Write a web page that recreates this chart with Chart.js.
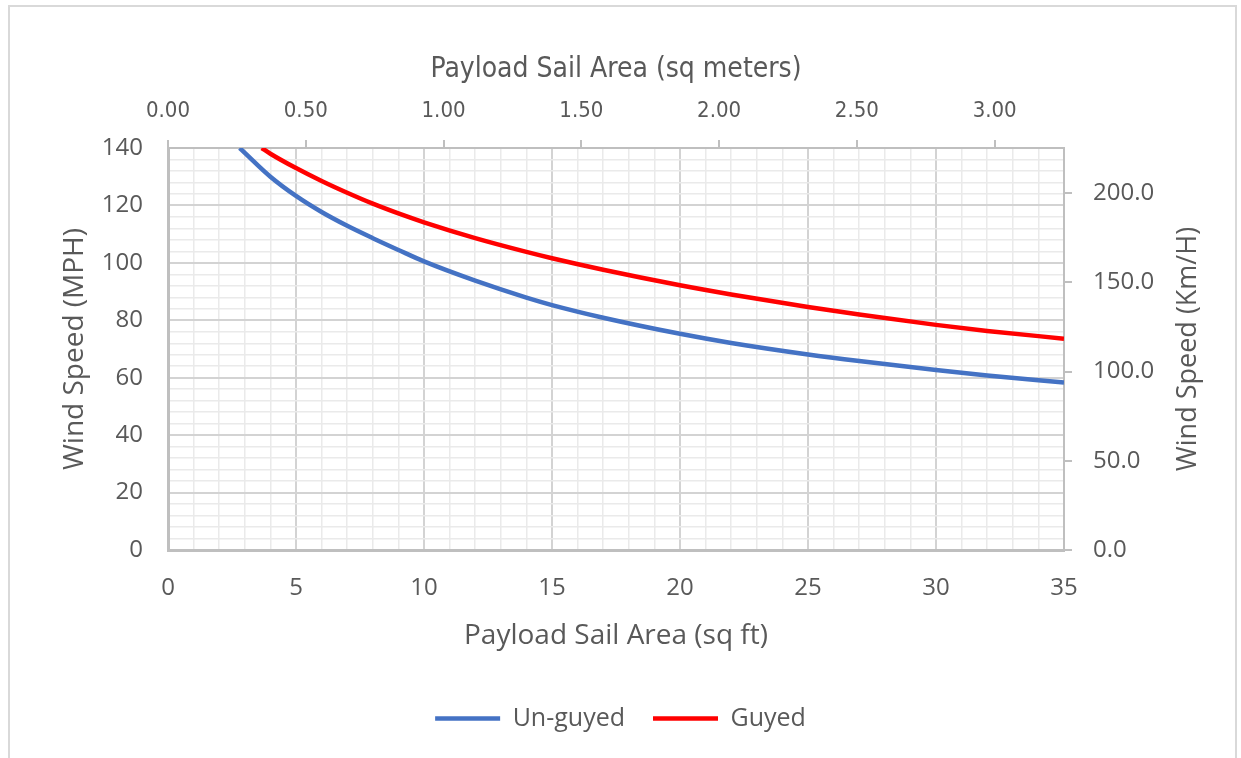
<!DOCTYPE html>
<html>
<head>
<meta charset="utf-8">
<script src="https://cdn.jsdelivr.net/npm/chart.js@4/dist/chart.umd.min.js"></script>
<style>
    body { margin: 0; background: #fff; overflow: hidden; }
    #frame {
        position: absolute; left: 8px; top: 5px; width: 1229px; height: 760px;
        border: 2px solid #d9d9d9; box-sizing: border-box;
    }
    #chart { position: absolute; left: 0; top: 0; }
</style>
</head>
<body>
<div id="frame"></div>
<canvas id="chart" width="1241" height="758"></canvas>
<script>
// Sail area (sq ft) and wind speed (mph)
const unguyedArea = [2.8, 3, 4, 5, 6, 7, 8, 9, 10, 12, 14, 15, 17, 20, 22, 25, 27, 30, 32, 35];
const unguyedSpeed = [140, 138.3, 130, 123.3, 117.7, 112.9, 108.6, 104.5, 100.5, 93.8, 87.9, 85.3, 80.9, 75.3, 72.1, 68.1, 65.8, 62.7, 60.8, 58.3];

const guyedArea = [3.66, 4, 5, 6, 7, 8, 9, 10, 12, 14, 15, 17, 20, 22, 25, 27, 30, 32, 35];
const guyedSpeed = [140, 138, 133, 128.5, 124.4, 120.6, 117.2, 114.1, 108.6, 103.8, 101.6, 97.6, 92.2, 89, 84.6, 82, 78.4, 76.3, 73.6];

// axis ranges
const areaMax = 35;      // sq ft
const speedMax = 140;    // mph
const SQFT_PER_SQM = 10.7639;
const KMH_PER_MPH = 1.609344;

const textColor = '#595959';
const majorGrid = '#d3d3d3';
const minorGrid = '#eaeaea';
const axisLine = '#bfbfbf';

const toPoints = (xs, ys) => xs.map((x, i) => ({ x: x, y: ys[i] }));

const font = (size) => ({ family: "'Open Sans', sans-serif", size: size, lineHeight: 1.2 });
const narrow = (size) => ({ family: "'Liberation Sans Narrow', 'DejaVu Sans Condensed', sans-serif", size: size, lineHeight: 1.2 });

// right axis title reads bottom-to-top, like the left one
const rightTitle = {
    id: 'rightTitle',
    afterDraw(chart) {
        const { ctx, chartArea } = chart;
        ctx.save();
        ctx.translate(1188, (chartArea.top + chartArea.bottom) / 2);
        ctx.rotate(-Math.PI / 2);
        ctx.fillStyle = textColor;
        ctx.font = "27px 'Open Sans', sans-serif";
        ctx.textAlign = 'center';
        ctx.textBaseline = 'middle';
        ctx.fillText('Wind Speed (Km/H)', 0, 0);
        ctx.restore();
    }
};

new Chart(document.getElementById('chart'), {
    type: 'line',
    data: {
        datasets: [
            {
                label: 'Un-guyed',
                data: toPoints(unguyedArea, unguyedSpeed),
                borderColor: '#4472c4',
                backgroundColor: '#4472c4',
                borderWidth: 4.5,
                pointRadius: 0,
                cubicInterpolationMode: 'monotone',
                xAxisID: 'x',
                yAxisID: 'y'
            },
            {
                label: 'Guyed',
                data: toPoints(guyedArea, guyedSpeed),
                borderColor: '#ff0000',
                backgroundColor: '#ff0000',
                borderWidth: 4.5,
                pointRadius: 0,
                cubicInterpolationMode: 'monotone',
                xAxisID: 'x',
                yAxisID: 'y'
            }
        ]
    },
    plugins: [rightTitle],
    options: {
        responsive: false,
        animation: false,
        layout: { padding: { left: 0, right: 0, top: 0, bottom: 17 } },
        plugins: {
            tooltip: { enabled: false },
            legend: {
                position: 'bottom',
                labels: {
                    usePointStyle: true,
                    pointStyle: 'line',
                    pointStyleWidth: 65,
                    color: textColor,
                    font: font(25),
                    padding: 28
                }
            }
        },
        scales: {
            x: {
                type: 'linear',
                position: 'bottom',
                min: 0,
                max: areaMax,
                ticks: {
                    stepSize: 1,
                    autoSkip: false,
                    maxRotation: 0,
                    color: textColor,
                    font: font(24),
                    padding: 24,
                    callback: (v) => (v % 5 === 0 ? String(v) : '')
                },
                grid: {
                    drawTicks: false,
                    color: (c) => (c.tick && c.tick.value % 5 === 0 ? majorGrid : minorGrid),
                    lineWidth: (c) => (c.tick && c.tick.value % 5 === 0 ? 2 : 1.5)
                },
                border: { color: axisLine, width: 3 },
                title: {
                    display: true,
                    text: 'Payload Sail Area (sq ft)',
                    color: textColor,
                    font: font(28),
                    padding: { top: 0, bottom: 25 }
                },
                afterFit: (s) => { s.height = 128; }
            },
            x2: {
                type: 'linear',
                position: 'top',
                min: 0,
                max: areaMax / SQFT_PER_SQM,
                ticks: {
                    stepSize: 0.5,
                    includeBounds: false,
                    maxRotation: 0,
                    color: textColor,
                    font: narrow(22),
                    padding: 16,
                    callback: (v) => v.toFixed(2)
                },
                grid: { drawOnChartArea: false, color: axisLine, tickLength: 8, lineWidth: 2 },
                border: { color: axisLine, width: 2 },
                title: {
                    display: true,
                    text: 'Payload Sail Area (sq meters)',
                    color: textColor,
                    font: narrow(28),
                    padding: { top: 53, bottom: 0 }
                },
                afterFit: (s) => { s.height = 148; }
            },
            y: {
                type: 'linear',
                position: 'left',
                min: 0,
                max: speedMax,
                ticks: {
                    stepSize: 4,
                    autoSkip: false,
                    color: textColor,
                    font: font(24),
                    padding: 25,
                    callback: (v) => (v % 20 === 0 ? String(v) : '')
                },
                grid: {
                    drawTicks: false,
                    color: (c) => (c.tick && c.tick.value % 20 === 0 ? majorGrid : minorGrid),
                    lineWidth: (c) => (c.tick && c.tick.value % 20 === 0 ? 2 : 1.5)
                },
                border: { color: axisLine, width: 3 },
                title: {
                    display: true,
                    text: 'Wind Speed (MPH)',
                    color: textColor,
                    font: font(28),
                    padding: { top: 58, bottom: 0 }
                },
                afterFit: (s) => { s.width = 168; }
            },
            y2: {
                type: 'linear',
                position: 'right',
                min: 0,
                max: speedMax * KMH_PER_MPH,
                ticks: {
                    stepSize: 50,
                    includeBounds: false,
                    color: textColor,
                    font: font(24),
                    padding: 21,
                    callback: (v) => v.toFixed(1)
                },
                grid: { drawOnChartArea: false, color: axisLine, tickLength: 8, lineWidth: 2 },
                border: { color: axisLine, width: 2 },
                afterFit: (s) => { s.width = 177; }
            }
        }
    }
});
</script>
</body>
</html>
